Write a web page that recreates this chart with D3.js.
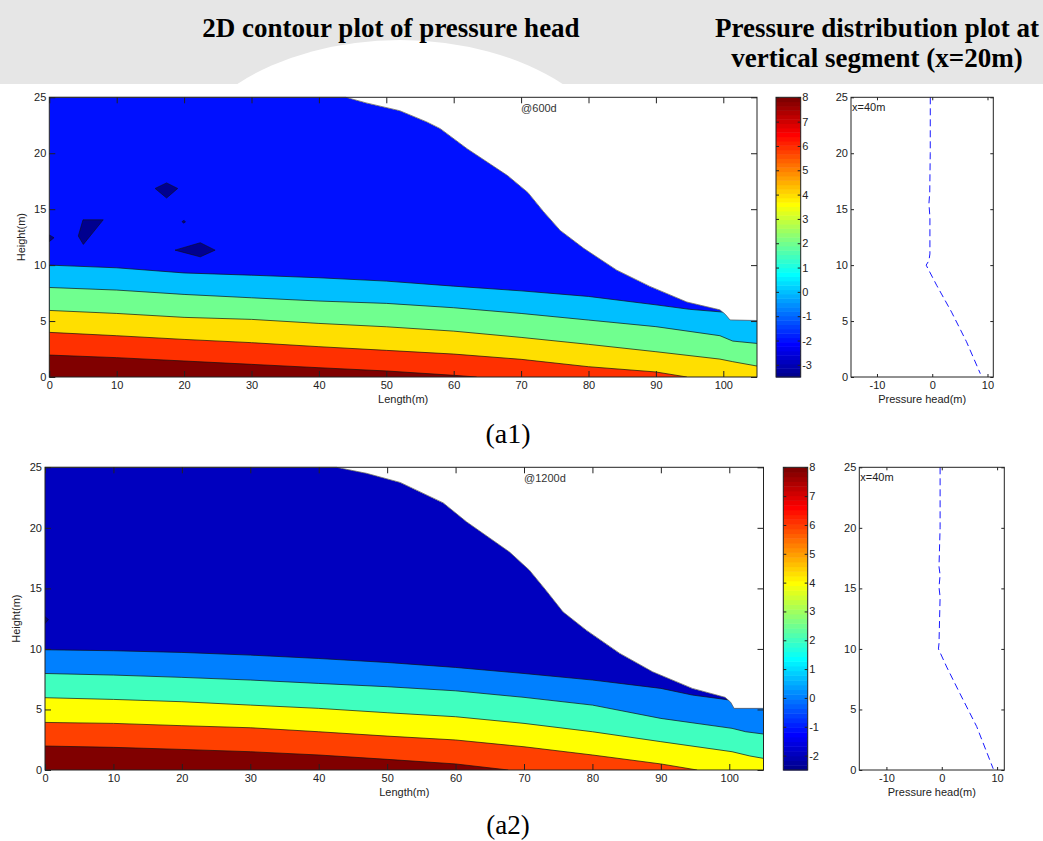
<!DOCTYPE html>
<html>
<head>
<meta charset="utf-8">
<script src="https://cdn.jsdelivr.net/npm/d3@7"></script>
<style>
  body { margin: 0; background: #fff; }
  svg { display: block; }
  .tick text { font-family: "Liberation Sans", Arial, sans-serif; }
</style>
</head>
<body>
<div id="chart"></div>
<script>
// axis ticks
const lengthTicks = [0, 10, 20, 30, 40, 50, 60, 70, 80, 90, 100];
const heightTicks = [0, 5, 10, 15, 20, 25];
const pressureTicks = [-10, 0, 10];
const isoLevels = [0, 2, 4, 6, 8];
const cbarRange600 = [-3.5, 8];
const cbarRange1200 = [-2.5, 8];
const cbarTicks600 = [-3, -2, -1, 0, 1, 2, 3, 4, 5, 6, 7, 8];
const cbarTicks1200 = [-2, -1, 0, 1, 2, 3, 4, 5, 6, 7, 8];

// free surface (top of the wet domain), [length, height]
const surface600 = [[0,25],[44,25],[47,24.5],[52,23.8],[56,22.8],[58,22.2],[62,20.4],[68,18],[71,16.5],[73.3,14.8],[75.8,13.1],[79.3,11.5],[84.2,9.55],[89.1,8.1],[94.6,6.7],[99.5,6.0],[100.3,5.6],[101,5.1],[105,5.05]];
const surface1200 = [[0,25],[42.6,25],[47,24.5],[51.9,23.75],[58.2,22.06],[61.6,20.5],[67.9,18],[70.8,16.5],[73.2,14.85],[75.7,13.06],[79.1,11.55],[84,9.63],[88.8,8.11],[94.6,6.74],[99.4,6.0],[100.2,5.6],[100.7,5.09],[105,5.09]];

// contour lines @600d
const iso0_600 = [[0,10],[10,9.76],[20,9.3],[30,9.1],[40,8.87],[50,8.57],[60,8.12],[70,7.7],[80,7.2],[90,6.45],[95,6.05],[100,5.8],[105,5.8]];
const iso2_600 = [[0,8],[10,7.77],[20,7.38],[30,7.08],[40,6.79],[50,6.58],[60,6.19],[70,5.68],[80,5.09],[90,4.5],[99.5,3.69],[101.4,3.21],[105,3.0]];
const iso4_600 = [[0,5.95],[10,5.68],[20,5.33],[30,5.15],[40,4.79],[50,4.49],[60,4.1],[70,3.54],[80,2.92],[90,2.26],[99.5,1.6],[101.4,1.37],[105,0.98]];
const iso6_600 = [[0,3.99],[10,3.69],[20,3.36],[30,3.07],[40,2.71],[50,2.38],[60,2.05],[70,1.58],[80,0.92],[90,0.45],[94.6,0]];
const iso8_600 = [[0,1.96],[10,1.73],[20,1.43],[30,1.13],[40,0.83],[50,0.54],[60,0.15],[63.4,0]];
// pockets below -2 m @600d
const pockets600 = [
  [[15.7,16.85],[17.4,17.35],[19.05,16.85],[17.4,16.0]],
  [[4.3,12.6],[5.0,14.05],[8.0,14.05],[5.05,11.85]],
  [[18.65,11.34],[22.4,12.0],[24.6,11.34],[22.4,10.74]],
  [[19.7,13.9],[20.0,14.0],[20.2,13.85],[19.9,13.75]],
  [[0,12.7],[0.7,12.45],[0,12.1]]
];

// contour lines @1200d
const iso0_1200 = [[0,9.93],[10,9.85],[20,9.71],[30,9.49],[40,9.21],[50,8.88],[60,8.47],[70,7.97],[80,7.43],[90,6.74],[94.6,6.19],[99.4,5.83],[102,5.6],[105,5.6]];
const iso2_1200 = [[0,7.97],[10,7.84],[20,7.65],[30,7.43],[40,7.15],[50,6.88],[60,6.54],[70,6.0],[80,5.36],[90,4.26],[100.4,3.44],[102.4,3.16],[105,2.97]];
const iso4_1200 = [[0,5.97],[10,5.83],[20,5.64],[30,5.36],[40,5.09],[50,4.73],[60,4.4],[70,3.85],[80,3.16],[90,2.34],[100.4,1.51],[103,1.16],[105,0.96]];
const iso6_1200 = [[0,3.93],[10,3.85],[20,3.66],[30,3.49],[40,3.16],[50,2.8],[60,2.48],[70,1.92],[80,1.24],[90,0.5],[95.3,0]];
const iso8_1200 = [[0,1.98],[10,1.87],[20,1.7],[30,1.51],[40,1.24],[50,0.88],[60,0.5],[67.7,0]];
const pockets1200 = [
  [[0,12.65],[0.5,12.43],[0,12.1]]
];

// pressure head along the vertical segment, [pressure, height]
const profile600 = [[-0.35,25],[-0.36,20],[-0.45,16.5],[-0.6,15.5],[-0.42,14.3],[-0.42,11],[-0.6,10.4],[-1.1,10],[0.8,8.2],[3.5,5.8],[6.2,3.15],[8.7,0.3]];
const profile1200 = [[-0.3,25],[-0.3,20],[-0.5,16.8],[-0.3,16.1],[-0.5,15.1],[-0.3,14.3],[-0.5,10.45],[-0.6,10],[0.9,8.5],[3.3,6.3],[6.3,3.6],[9.3,0.1]];

const W = 1043, H = 841;
const labelFont = '"Liberation Sans", Arial, sans-serif';
const serifFont = '"Liberation Serif", "Times New Roman", serif';

// matlab jet(64)
function jet(i) {
  const u = k => (k < 1 || k > 47) ? 0 : k <= 16 ? k / 16 : k <= 31 ? 1 : (48 - k) / 16;
  const n = i + 1;
  const c = v => Math.round(v * 255);
  return d3.rgb(c(u(n - 24)), c(u(n - 8)), c(u(n + 8))).formatHex();
}
function levelColor(v, range) {
  let idx = Math.floor((v - range[0]) / (range[1] - range[0]) * 64);
  return jet(Math.max(0, Math.min(63, idx)));
}

const svg = d3.select("#chart").append("svg")
  .attr("width", W)
  .attr("height", H);
svg.append("rect").attr("width", W).attr("height", H).attr("fill", "#fff");

// faint watermark band behind the titles
svg.append("rect").attr("x", 0).attr("y", 0).attr("width", W).attr("height", 84).attr("fill", "#e6e6e6");
svg.append("ellipse").attr("cx", 400).attr("cy", 190).attr("rx", 230).attr("ry", 150).attr("fill", "#fff");

const titleStyle = sel => sel
  .attr("text-anchor", "middle")
  .style("font-family", serifFont).style("font-weight", "bold").style("font-size", "27px");
svg.append("text").attr("x", 391).attr("y", 37).call(titleStyle)
  .text("2D contour plot of pressure head");
svg.append("text").attr("x", 877).attr("y", 37).call(titleStyle)
  .text("Pressure distribution plot at");
svg.append("text").attr("x", 877).attr("y", 67).call(titleStyle)
  .text("vertical segment (x=20m)");

function frame(g, x, y, box, xt, yt, tick) {
  const fmt = d => String(d);
  const style = sel => {
    sel.select(".domain").remove();
    sel.attr("font-family", labelFont).attr("font-size", 11).attr("color", "#222");
  };
  g.append("g").attr("transform", `translate(0,${box.y1})`)
    .call(d3.axisBottom(x).tickValues(xt).tickSize(-tick).tickPadding(4).tickFormat(fmt))
    .call(style);
  g.append("g").attr("transform", `translate(0,${box.y0})`)
    .call(d3.axisTop(x).tickValues(xt).tickSize(-tick).tickFormat(""))
    .call(style);
  g.append("g").attr("transform", `translate(${box.x0},0)`)
    .call(d3.axisLeft(y).tickValues(yt).tickSize(-tick).tickPadding(3).tickFormat(fmt))
    .call(style);
  g.append("g").attr("transform", `translate(${box.x1},0)`)
    .call(d3.axisRight(y).tickValues(yt).tickSize(-tick).tickFormat(""))
    .call(style);
  g.append("rect")
    .attr("x", box.x0).attr("y", box.y0)
    .attr("width", box.x1 - box.x0).attr("height", box.y1 - box.y0)
    .attr("fill", "none").attr("stroke", "#222").attr("stroke-width", 1);
}

function contourPanel(id, box, surface, isos, pockets, range, stamp, labelX) {
  const g = svg.append("g");
  const x = d3.scaleLinear().domain([0, 105]).range([box.x0, box.x1]);
  const y = d3.scaleLinear().domain([0, 25]).range([box.y1, box.y0]);
  const area = d3.area().x(d => x(d[0])).y0(y(0)).y1(d => y(d[1]));
  const line = d3.line().x(d => x(d[0])).y(d => y(d[1]));

  svg.append("defs").append("clipPath").attr("id", id)
    .append("path").attr("d", area(surface));

  const body = g.append("g").attr("clip-path", `url(#${id})`);
  body.append("path").attr("d", area(surface)).attr("fill", levelColor(-2, range));
  body.selectAll(".pocket").data(pockets).join("path")
    .attr("class", "pocket")
    .attr("d", d => line(d) + "Z")
    .attr("fill", levelColor(-4, range))
    .attr("stroke", "#111").attr("stroke-width", 0.6);
  body.selectAll(".band").data(isos).join("path")
    .attr("class", "band")
    .attr("d", d => area(d))
    .attr("fill", (d, i) => levelColor(isoLevels[i], range));
  body.selectAll(".iso").data(isos).join("path")
    .attr("class", "iso")
    .attr("d", d => line(d))
    .attr("fill", "none").attr("stroke", "#111").attr("stroke-width", 0.7);

  g.append("path").attr("d", line(surface))
    .attr("fill", "none").attr("stroke", "#666").attr("stroke-width", 0.8);

  frame(g, x, y, box, lengthTicks, heightTicks, 6);

  g.append("text")
    .attr("x", (box.x0 + box.x1) / 2).attr("y", box.y1 + 26)
    .attr("text-anchor", "middle")
    .style("font-family", labelFont).style("font-size", "11px").style("fill", "#222")
    .text("Length(m)");
  g.append("text")
    .attr("transform", `translate(${labelX},${(box.y0 + box.y1) / 2}) rotate(-90)`)
    .attr("text-anchor", "middle")
    .style("font-family", labelFont).style("font-size", "11px").style("fill", "#222")
    .text("Height(m)");
  g.append("text")
    .attr("x", x(70)).attr("y", box.y0 + 15)
    .style("font-family", labelFont).style("font-size", "11px").style("fill", "#333")
    .text(stamp);
}

function colorbar(box, range, ticks) {
  const g = svg.append("g");
  const c = d3.scaleLinear().domain(range).range([box.y1, box.y0]);
  const step = (range[1] - range[0]) / 64;
  g.selectAll("rect").data(d3.range(64)).join("rect")
    .attr("x", box.x0)
    .attr("y", i => c(range[0] + (i + 1) * step))
    .attr("width", box.x1 - box.x0)
    .attr("height", i => c(range[0] + i * step) - c(range[0] + (i + 1) * step) + 0.5)
    .attr("fill", i => jet(i));
  const style = sel => {
    sel.select(".domain").remove();
    sel.attr("font-family", labelFont).attr("font-size", 11).attr("color", "#222");
  };
  g.append("g").attr("transform", `translate(${box.x1},0)`)
    .call(d3.axisRight(c).tickValues(ticks).tickSize(-3).tickPadding(1.5).tickFormat(d => String(d)))
    .call(style);
  g.append("g").attr("transform", `translate(${box.x0},0)`)
    .call(d3.axisLeft(c).tickValues(ticks).tickSize(-3).tickFormat(""))
    .call(style);
  g.append("rect")
    .attr("x", box.x0).attr("y", box.y0)
    .attr("width", box.x1 - box.x0).attr("height", box.y1 - box.y0)
    .attr("fill", "none").attr("stroke", "#222").attr("stroke-width", 1);
}

function profilePanel(box, domain, profile) {
  const g = svg.append("g");
  const x = d3.scaleLinear().domain(domain).range([box.x0, box.x1]);
  const y = d3.scaleLinear().domain([0, 25]).range([box.y1, box.y0]);
  const line = d3.line().x(d => x(d[0])).y(d => y(d[1]));
  g.append("path").attr("d", line(profile))
    .attr("fill", "none").attr("stroke", "#1a1aff").attr("stroke-width", 1)
    .attr("stroke-dasharray", "7,4");
  frame(g, x, y, box, pressureTicks, heightTicks, 3);
  g.append("text")
    .attr("x", (box.x0 + box.x1) / 2).attr("y", box.y1 + 26)
    .attr("text-anchor", "middle")
    .style("font-family", labelFont).style("font-size", "11px").style("fill", "#222")
    .text("Pressure head(m)");
  g.append("text")
    .attr("x", box.x0 + 1).attr("y", box.y0 + 14)
    .style("font-family", labelFont).style("font-size", "11px").style("fill", "#222")
    .text("x=40m");
}

const box600 = { x0: 49.3, x1: 757, y0: 97.3, y1: 377 };
const box1200 = { x0: 45, x1: 763.5, y0: 467.3, y1: 770 };

contourPanel("clip600", box600, surface600, [iso0_600, iso2_600, iso4_600, iso6_600, iso8_600], pockets600, cbarRange600, "@600d", 25);
colorbar({ x0: 776, x1: 800.7, y0: 97.3, y1: 377 }, cbarRange600, cbarTicks600);
profilePanel({ x0: 851, x1: 993.3, y0: 97.3, y1: 377 }, [-14.7, 11.05], profile600);

contourPanel("clip1200", box1200, surface1200, [iso0_1200, iso2_1200, iso4_1200, iso6_1200, iso8_1200], pockets1200, cbarRange1200, "@1200d", 20);
colorbar({ x0: 783.3, x1: 807.7, y0: 467.3, y1: 770 }, cbarRange1200, cbarTicks1200);
profilePanel({ x0: 859.3, x1: 1004.3, y0: 467.3, y1: 770 }, [-14.9, 11.3], profile1200);

svg.append("text")
  .attr("x", 508).attr("y", 443)
  .attr("text-anchor", "middle")
  .style("font-family", serifFont).style("font-size", "28px")
  .text("(a1)");
svg.append("text")
  .attr("x", 508).attr("y", 834)
  .attr("text-anchor", "middle")
  .style("font-family", serifFont).style("font-size", "27px")
  .text("(a2)");
</script>
</body>
</html>
